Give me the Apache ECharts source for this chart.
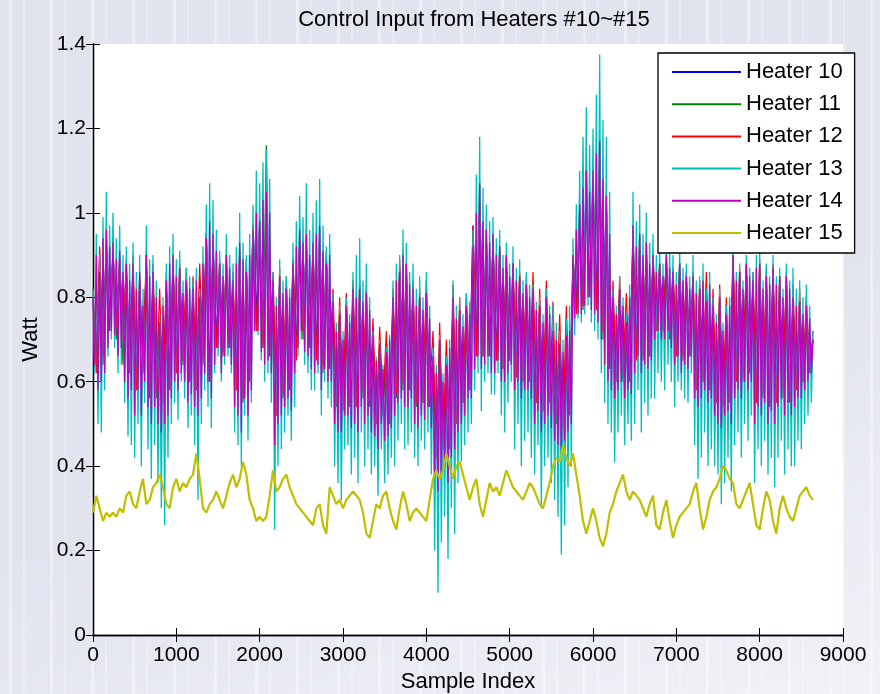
<!DOCTYPE html>
<html>
<head>
<meta charset="utf-8">
<script src="https://cdn.jsdelivr.net/npm/echarts@6/dist/echarts.min.js"></script>
<style>
html,body{margin:0;padding:0;width:880px;height:694px;overflow:hidden;}
body{
  background-color:#e1e3ee;
  background-image:
    linear-gradient(160deg, rgba(255,255,255,0) 55%, rgba(255,255,255,0.55) 100%),
    repeating-linear-gradient(90deg, rgba(255,255,255,0) 0px, rgba(255,255,255,0) 9px, rgba(255,255,255,0.4) 9px, rgba(255,255,255,0.4) 12px, rgba(255,255,255,0) 12px, rgba(255,255,255,0) 23px, rgba(255,255,255,0.25) 23px, rgba(255,255,255,0.25) 25px, rgba(255,255,255,0) 25px, rgba(255,255,255,0) 41px);
}
#chart{width:880px;height:694px;}
</style>
</head>
<body>
<div id="chart"></div>
<script>
const seriesNames = ['Heater 10','Heater 11','Heater 12','Heater 13','Heater 14','Heater 15'];
const seriesSteps = [40, 40, 40, 20, 20, 40];   // samples between stored values
const xTickValues = [0,1000,2000,3000,4000,5000,6000,7000,8000,9000];
const yTickValues = [0,0.2,0.4,0.6,0.8,1.0,1.2,1.4];

const heater10 = [
0.79,0.65,0.90,0.69,0.92,0.76, 0.90,0.75,0.88,0.72,0.87,0.65, 0.86,0.61,0.81,0.66,0.88,0.59,
0.84,0.60,0.76,0.57,0.82,0.62, 0.87,0.65,0.84,0.67,0.83,0.62, 0.80,0.60,0.84,0.68,0.95,0.62,
0.92,0.71,0.86,0.68,0.88,0.72, 0.82,0.60,0.90,0.57,0.86,0.64, 0.97,0.76,0.97,0.71,1.01,0.68,
0.82,0.55,0.83,0.60,0.80,0.62, 0.86,0.68,0.93,0.75,0.92,0.71, 0.90,0.68,0.94,0.64,0.89,0.69,
0.77,0.57,0.74,0.55,0.76,0.58, 0.80,0.56,0.80,0.60,0.78,0.57, 0.69,0.52,0.67,0.56,0.66,0.53,
0.78,0.59,0.87,0.62,0.85,0.60, 0.80,0.57,0.77,0.57,0.79,0.60, 0.65,0.43,0.68,0.46,0.64,0.49,
0.78,0.53,0.74,0.57,0.76,0.62, 0.97,0.69,1.03,0.69,0.93,0.70, 0.92,0.67,0.89,0.66,0.88,0.67,
0.85,0.64,0.83,0.62,0.81,0.64, 0.80,0.57,0.76,0.55,0.78,0.58, 0.70,0.52,0.68,0.51,0.70,0.54,
0.88,0.79,0.99,0.80,1.06,0.83, 1.06,0.80,1.12,0.75,1.03,0.66, 0.78,0.62,0.80,0.64,0.76,0.62,
0.94,0.68,0.91,0.68,0.90,0.69, 0.88,0.74,0.86,0.74,0.88,0.72, 0.84,0.68,0.86,0.67,0.83,0.68,
0.82,0.60,0.80,0.62,0.82,0.61, 0.76,0.56,0.78,0.55,0.74,0.58, 0.87,0.62,0.84,0.62,0.86,0.64,
0.82,0.56,0.86,0.58,0.83,0.56, 0.85,0.56,0.81,0.60,0.83,0.56, 0.78,0.60,0.77,0.62,0.76,0.64,
0.70];

const heater11 = [
0.80,0.66,0.88,0.64,0.95,0.72, 0.91,0.70,0.89,0.64,0.87,0.62, 0.87,0.58,0.85,0.62,0.89,0.56,
0.85,0.56,0.75,0.55,0.83,0.58, 0.89,0.62,0.86,0.64,0.83,0.60, 0.82,0.58,0.80,0.64,0.95,0.60,
0.94,0.68,0.88,0.67,0.89,0.68, 0.84,0.58,0.92,0.56,0.87,0.60, 0.97,0.73,0.99,0.68,1.16,0.66,
0.85,0.52,0.84,0.56,0.82,0.58, 0.89,0.66,0.95,0.70,0.94,0.68, 0.92,0.66,0.96,0.64,0.89,0.63,
0.78,0.54,0.76,0.53,0.78,0.54, 0.82,0.54,0.82,0.56,0.80,0.54, 0.71,0.50,0.69,0.52,0.67,0.50,
0.80,0.56,0.86,0.58,0.88,0.58, 0.82,0.54,0.80,0.55,0.81,0.54, 0.66,0.42,0.70,0.44,0.64,0.44,
0.80,0.50,0.77,0.55,0.78,0.58, 0.92,0.66,1.07,0.66,0.96,0.66, 0.95,0.65,0.92,0.63,0.90,0.65,
0.88,0.61,0.85,0.60,0.83,0.60, 0.82,0.55,0.78,0.53,0.80,0.55, 0.72,0.50,0.69,0.49,0.71,0.52,
0.90,0.77,1.02,0.78,1.10,0.80, 1.10,0.77,1.17,0.70,1.04,0.63, 0.80,0.60,0.82,0.60,0.74,0.60,
0.97,0.66,0.95,0.66,0.93,0.66, 0.90,0.73,0.88,0.72,0.90,0.72, 0.86,0.67,0.88,0.66,0.85,0.66,
0.85,0.58,0.82,0.60,0.79,0.58, 0.78,0.55,0.80,0.54,0.76,0.55, 0.90,0.60,0.86,0.62,0.88,0.62,
0.84,0.55,0.88,0.57,0.85,0.55, 0.87,0.55,0.85,0.56,0.85,0.56, 0.80,0.58,0.79,0.60,0.78,0.63,
0.70];

const heater12 = [
0.82,0.62,0.92,0.66,0.93,0.74, 0.91,0.73,0.90,0.70,0.89,0.62, 0.90,0.58,0.85,0.64,0.91,0.57,
0.88,0.58,0.82,0.55,0.86,0.60, 0.89,0.62,0.88,0.65,0.87,0.60, 0.85,0.58,0.88,0.66,0.95,0.60,
0.92,0.68,0.89,0.66,0.90,0.70, 0.86,0.58,0.91,0.55,0.89,0.62, 0.97,0.72,0.96,0.68,1.00,0.66,
0.86,0.52,0.87,0.57,0.85,0.60, 0.89,0.65,0.93,0.72,0.93,0.68, 0.92,0.65,0.94,0.62,0.91,0.67,
0.82,0.55,0.80,0.54,0.81,0.57, 0.84,0.54,0.84,0.58,0.83,0.55, 0.75,0.50,0.73,0.55,0.72,0.52,
0.82,0.57,0.89,0.60,0.88,0.58, 0.84,0.55,0.82,0.55,0.84,0.58, 0.72,0.42,0.74,0.45,0.70,0.48,
0.83,0.50,0.80,0.55,0.81,0.60, 0.97,0.66,1.02,0.66,0.94,0.68, 0.93,0.65,0.91,0.63,0.89,0.65,
0.88,0.61,0.86,0.60,0.85,0.61, 0.86,0.55,0.82,0.53,0.84,0.56, 0.79,0.52,0.76,0.50,0.78,0.54,
0.90,0.76,0.98,0.77,1.04,0.80, 1.05,0.77,1.10,0.72,1.02,0.64, 0.84,0.60,0.85,0.62,0.81,0.60,
0.94,0.65,0.92,0.65,0.91,0.66, 0.90,0.72,0.88,0.72,0.89,0.70, 0.87,0.66,0.88,0.65,0.86,0.66,
0.86,0.58,0.84,0.60,0.86,0.58, 0.82,0.55,0.83,0.54,0.80,0.56, 0.90,0.60,0.87,0.60,0.88,0.62,
0.86,0.55,0.89,0.56,0.87,0.54, 0.88,0.55,0.85,0.58,0.86,0.55, 0.83,0.58,0.82,0.60,0.80,0.62,
0.72];

const heater13 = [
0.82,0.62,0.95,0.50,0.90,0.48,0.99,0.58,1.05,0.66,0.97,0.70,
1.00,0.68,0.94,0.62,0.97,0.64,0.90,0.55,0.92,0.47,0.88,0.45,
0.93,0.42,0.86,0.50,0.90,0.40,0.82,0.55,0.97,0.44,0.89,0.37,
0.90,0.45,0.84,0.36,0.76,0.30,0.80,0.26,0.88,0.42,0.92,0.50,
0.95,0.55,0.89,0.51,0.91,0.60,0.84,0.56,0.87,0.49,0.85,0.52,
0.84,0.45,0.87,0.32,0.82,0.50,0.92,0.58,1.02,0.54,1.07,0.49,
1.03,0.62,0.96,0.66,0.91,0.60,0.88,0.64,0.95,0.66,0.90,0.62,
0.88,0.48,0.92,0.45,1.00,0.40,0.93,0.52,0.90,0.46,0.95,0.55,
1.02,0.72,1.10,0.71,1.07,0.65,1.12,0.60,1.15,0.62,1.08,0.55,
0.86,0.25,0.80,0.40,0.89,0.44,0.84,0.48,0.85,0.52,0.82,0.46,
0.93,0.54,0.98,0.66,1.04,0.70,0.99,0.64,1.07,0.62,0.96,0.58,
1.00,0.58,1.03,0.62,1.08,0.52,0.97,0.60,0.92,0.56,0.95,0.54,
0.81,0.40,0.74,0.36,0.78,0.32,0.72,0.44,0.80,0.45,0.76,0.38,
0.86,0.42,0.90,0.36,0.94,0.48,0.84,0.40,0.88,0.44,0.80,0.38,
0.72,0.40,0.66,0.33,0.70,0.44,0.64,0.36,0.68,0.38,0.71,0.42,
0.84,0.40,0.88,0.46,0.90,0.50,0.96,0.44,0.93,0.45,0.86,0.48,
0.88,0.42,0.82,0.40,0.85,0.46,0.80,0.44,0.86,0.48,0.78,0.38,
0.68,0.20,0.64,0.10,0.71,0.22,0.62,0.28,0.66,0.18,0.70,0.30,
0.84,0.24,0.78,0.36,0.80,0.41,0.76,0.45,0.81,0.48,0.79,0.50,
0.96,0.58,1.09,0.62,1.18,0.53,1.06,0.60,1.02,0.62,0.98,0.57,
0.99,0.57,0.94,0.62,0.96,0.52,0.90,0.48,0.93,0.55,0.88,0.60,
0.92,0.44,0.87,0.50,0.89,0.40,0.84,0.46,0.86,0.48,0.83,0.42,
0.83,0.38,0.79,0.45,0.80,0.30,0.76,0.40,0.82,0.42,0.78,0.36,
0.78,0.32,0.74,0.28,0.72,0.19,0.70,0.26,0.75,0.35,0.78,0.40,
0.94,0.71,1.02,0.75,1.10,0.74,1.18,0.76,1.25,0.78,1.16,0.74,
1.20,0.72,1.28,0.70,1.375,0.62,1.22,0.55,1.18,0.50,1.05,0.48,
0.82,0.41,0.78,0.48,0.85,0.52,0.80,0.45,0.76,0.50,0.83,0.46,
1.05,0.50,0.98,0.58,1.02,0.48,0.95,0.55,1.00,0.52,0.93,0.56,
0.95,0.56,0.90,0.62,0.92,0.60,0.88,0.58,0.94,0.64,0.91,0.60,
0.90,0.54,0.86,0.60,0.92,0.58,0.87,0.56,0.88,0.55,0.85,0.62,
0.90,0.45,0.84,0.37,0.85,0.42,0.88,0.48,0.82,0.40,0.86,0.44,
0.80,0.40,0.76,0.38,0.82,0.31,0.74,0.36,0.78,0.42,0.80,0.34,
0.92,0.45,0.86,0.48,0.88,0.42,0.84,0.50,0.90,0.46,0.87,0.52,
0.86,0.36,0.90,0.44,0.92,0.40,0.84,0.46,0.88,0.38,0.85,0.42,
0.90,0.35,0.85,0.42,0.87,0.46,0.82,0.38,0.88,0.44,0.84,0.40,
0.87,0.40,0.82,0.46,0.84,0.44,0.80,0.50,0.83,0.52,0.78,0.55,
0.72];

const heater14 = [
0.80,0.64,0.90,0.58,0.86,0.60,0.94,0.62,0.96,0.68,0.92,0.72,
0.93,0.71,0.89,0.66,0.91,0.68,0.86,0.60,0.88,0.56,0.84,0.58,
0.88,0.52,0.82,0.58,0.86,0.52,0.78,0.60,0.90,0.54,0.85,0.50,
0.86,0.54,0.80,0.50,0.74,0.48,0.78,0.50,0.84,0.52,0.88,0.56,
0.90,0.60,0.85,0.58,0.87,0.62,0.81,0.60,0.84,0.55,0.82,0.57,
0.82,0.54,0.84,0.52,0.80,0.56,0.88,0.62,0.94,0.60,0.98,0.56,
0.95,0.64,0.91,0.68,0.88,0.62,0.85,0.66,0.90,0.68,0.87,0.64,
0.84,0.54,0.88,0.52,0.93,0.48,0.89,0.56,0.86,0.52,0.90,0.58,
0.96,0.72,1.00,0.72,0.98,0.67,1.03,0.64,1.05,0.65,1.00,0.62,
0.84,0.45,0.78,0.50,0.85,0.52,0.81,0.54,0.82,0.56,0.80,0.53,
0.88,0.62,0.92,0.68,0.96,0.72,0.93,0.67,0.95,0.66,0.90,0.63,
0.93,0.62,0.95,0.64,0.97,0.58,0.91,0.63,0.88,0.60,0.90,0.60,
0.79,0.50,0.72,0.48,0.76,0.48,0.70,0.52,0.78,0.52,0.74,0.49,
0.82,0.50,0.80,0.48,0.82,0.54,0.79,0.50,0.81,0.52,0.77,0.48,
0.71,0.47,0.65,0.44,0.69,0.50,0.63,0.46,0.67,0.47,0.70,0.49,
0.80,0.52,0.84,0.55,0.86,0.56,0.90,0.54,0.88,0.54,0.83,0.56,
0.82,0.50,0.78,0.49,0.80,0.52,0.77,0.51,0.81,0.54,0.75,0.49,
0.66,0.38,0.62,0.34,0.70,0.38,0.60,0.40,0.64,0.36,0.68,0.42,
0.80,0.44,0.75,0.48,0.77,0.50,0.73,0.52,0.78,0.56,0.76,0.56,
0.92,0.63,1.00,0.66,1.07,0.63,0.98,0.64,0.96,0.66,0.93,0.62,
0.95,0.62,0.90,0.65,0.92,0.60,0.87,0.60,0.90,0.62,0.85,0.64,
0.88,0.58,0.84,0.60,0.85,0.56,0.81,0.58,0.83,0.58,0.80,0.56,
0.82,0.50,0.77,0.53,0.78,0.48,0.74,0.50,0.80,0.52,0.76,0.49,
0.72,0.46,0.70,0.45,0.69,0.44,0.67,0.46,0.71,0.48,0.72,0.50,
0.90,0.75,0.96,0.76,1.02,0.76,1.06,0.78,1.10,0.80,1.05,0.77,
1.10,0.76,1.14,0.74,1.17,0.70,1.08,0.64,1.04,0.60,0.95,0.58,
0.80,0.56,0.76,0.58,0.82,0.60,0.78,0.56,0.74,0.58,0.80,0.57,
0.97,0.62,0.92,0.66,0.95,0.62,0.90,0.64,0.93,0.63,0.88,0.65,
0.90,0.70,0.86,0.72,0.88,0.70,0.85,0.70,0.90,0.72,0.87,0.68,
0.86,0.64,0.83,0.66,0.88,0.62,0.84,0.64,0.85,0.63,0.82,0.66,
0.85,0.56,0.81,0.54,0.82,0.56,0.84,0.58,0.79,0.55,0.83,0.56,
0.78,0.52,0.74,0.50,0.80,0.49,0.72,0.52,0.76,0.53,0.78,0.50,
0.90,0.56,0.84,0.58,0.86,0.56,0.82,0.60,0.88,0.58,0.85,0.60,
0.84,0.50,0.87,0.54,0.88,0.52,0.82,0.55,0.85,0.50,0.83,0.53,
0.87,0.50,0.83,0.54,0.85,0.56,0.80,0.52,0.85,0.55,0.82,0.52,
0.80,0.54,0.78,0.56,0.79,0.56,0.76,0.58,0.78,0.60,0.75,0.62,
0.70];

const heater15 = [
0.29,0.33,0.30,0.27,0.29,0.28,0.29,0.28,0.30,0.29,0.33,0.34,0.31,0.30,0.34,0.37,0.31,0.32,0.35,0.36,
0.38,0.35,0.31,0.30,0.35,0.37,0.34,0.36,0.35,0.37,0.38,0.43,0.37,0.30,0.29,0.31,0.32,0.34,0.32,0.30,
0.33,0.36,0.38,0.35,0.37,0.41,0.38,0.32,0.30,0.27,0.28,0.27,0.28,0.33,0.39,0.34,0.35,0.37,0.38,0.35,
0.33,0.31,0.30,0.29,0.28,0.27,0.26,0.30,0.31,0.26,0.24,0.35,0.33,0.31,0.32,0.30,0.32,0.33,0.34,0.33,
0.32,0.29,0.24,0.23,0.27,0.31,0.30,0.33,0.34,0.30,0.27,0.25,0.30,0.34,0.31,0.27,0.29,0.30,0.29,0.28,
0.27,0.32,0.37,0.39,0.37,0.39,0.43,0.40,0.37,0.40,0.41,0.38,0.35,0.32,0.35,0.37,0.31,0.28,0.32,0.36,
0.34,0.35,0.33,0.36,0.39,0.37,0.35,0.34,0.33,0.32,0.34,0.36,0.35,0.33,0.31,0.30,0.33,0.36,0.40,0.42,
0.41,0.45,0.42,0.40,0.43,0.38,0.33,0.27,0.24,0.27,0.30,0.27,0.23,0.21,0.24,0.29,0.31,0.34,0.36,0.38,
0.34,0.32,0.34,0.33,0.32,0.30,0.28,0.31,0.33,0.26,0.25,0.29,0.32,0.27,0.23,0.26,0.28,0.29,0.30,0.31,
0.34,0.36,0.30,0.25,0.28,0.32,0.34,0.35,0.37,0.40,0.39,0.37,0.36,0.31,0.30,0.32,0.34,0.36,0.31,0.26,
0.25,0.30,0.34,0.32,0.27,0.24,0.30,0.33,0.30,0.28,0.27,0.30,0.33,0.34,0.35,0.33,0.32];

const seriesValues = [heater10, heater11, heater12, heater13, heater14, heater15];
const seriesColors = ['#0000ff','#008000','#ff0000','#00bfbf','#bf00bf','#bfbf00'];

const chart = echarts.init(document.getElementById('chart'), null, {renderer:'canvas'});
const FONT = '"Liberation Sans", Arial, sans-serif';
const xMin = xTickValues[0], xMax = xTickValues[xTickValues.length-1], xInt = xTickValues[1]-xTickValues[0];
const yMin = yTickValues[0], yMax = yTickValues[yTickValues.length-1], yInt = 0.2;

function axisCommon(){
  return {
    axisLine:{show:true, lineStyle:{color:'#000', width:1.3}},
    axisTick:{show:true, inside:true, length:7, lineStyle:{color:'#000', width:1}},
    splitLine:{show:false},
    axisLabel:{show:false}
  };
}

const series = seriesValues.map((vals, k) => ({
  name: seriesNames[k],
  type: 'line',
  data: vals.map((v, i) => [i * seriesSteps[k], v]),
  showSymbol: false,
  symbol: 'none',
  lineStyle: {color: seriesColors[k], width: k === 5 ? 2.2 : (k >= 3 ? 1.3 : 1.2)},
  itemStyle: {color: seriesColors[k]},
  animation: false,
  silent: true,
  clip: true
}));

chart.setOption({
  animation: false,
  backgroundColor: 'transparent',
  title: {
    text: 'Control Input from Heaters #10~#15',
    left: 469, top: 4, textAlign: 'center',
    textStyle: {fontFamily: FONT, fontSize: 22, fontWeight: 'normal', color: '#000'}
  },
  legend: {
    orient: 'vertical',
    left: 658, top: 53,
    icon: 'rect',
    itemWidth: 69, itemHeight: 2,
    itemGap: 10.2,
    padding: [8, 12, 9, 14],
    backgroundColor: '#fff',
    borderColor: '#000', borderWidth: 1.3, borderRadius: 0,
    textStyle: {fontFamily: FONT, fontSize: 22, color: '#000', lineHeight: 22},
    data: seriesNames
  },
  grid: {left: 93, top: 44, width: 750, height: 591, show: true, backgroundColor: '#fff', borderWidth: 0,
    containLabel: false, outerBoundsMode: 'none'},
  xAxis: [
    Object.assign({type:'value', position:'bottom', min:xMin, max:xMax, interval:xInt,
      name:'Sample Index', nameLocation:'middle', nameGap:36,
      nameTextStyle:{fontFamily:FONT, fontSize:22, color:'#000'}}, axisCommon(),
      {axisLabel:{show:true, color:'#000', fontFamily:FONT, fontSize:21, margin:10,
        formatter: v => String(v)}}),
    Object.assign({type:'value', position:'top', min:xMin, max:xMax, interval:xInt}, axisCommon())
  ],
  yAxis: [
    Object.assign({type:'value', position:'left', min:yMin, max:yMax, interval:yInt,
      name:'Watt', nameLocation:'middle', nameGap:51,
      nameTextStyle:{fontFamily:FONT, fontSize:22, color:'#000'}}, axisCommon(),
      {axisLabel:{show:true, color:'#000', fontFamily:FONT, fontSize:21, margin:7,
        formatter: v => String(Math.round(v*10)/10)}}),
    Object.assign({type:'value', position:'right', min:yMin, max:yMax, interval:yInt}, axisCommon())
  ],
  series: series
});
</script>
</body>
</html>
